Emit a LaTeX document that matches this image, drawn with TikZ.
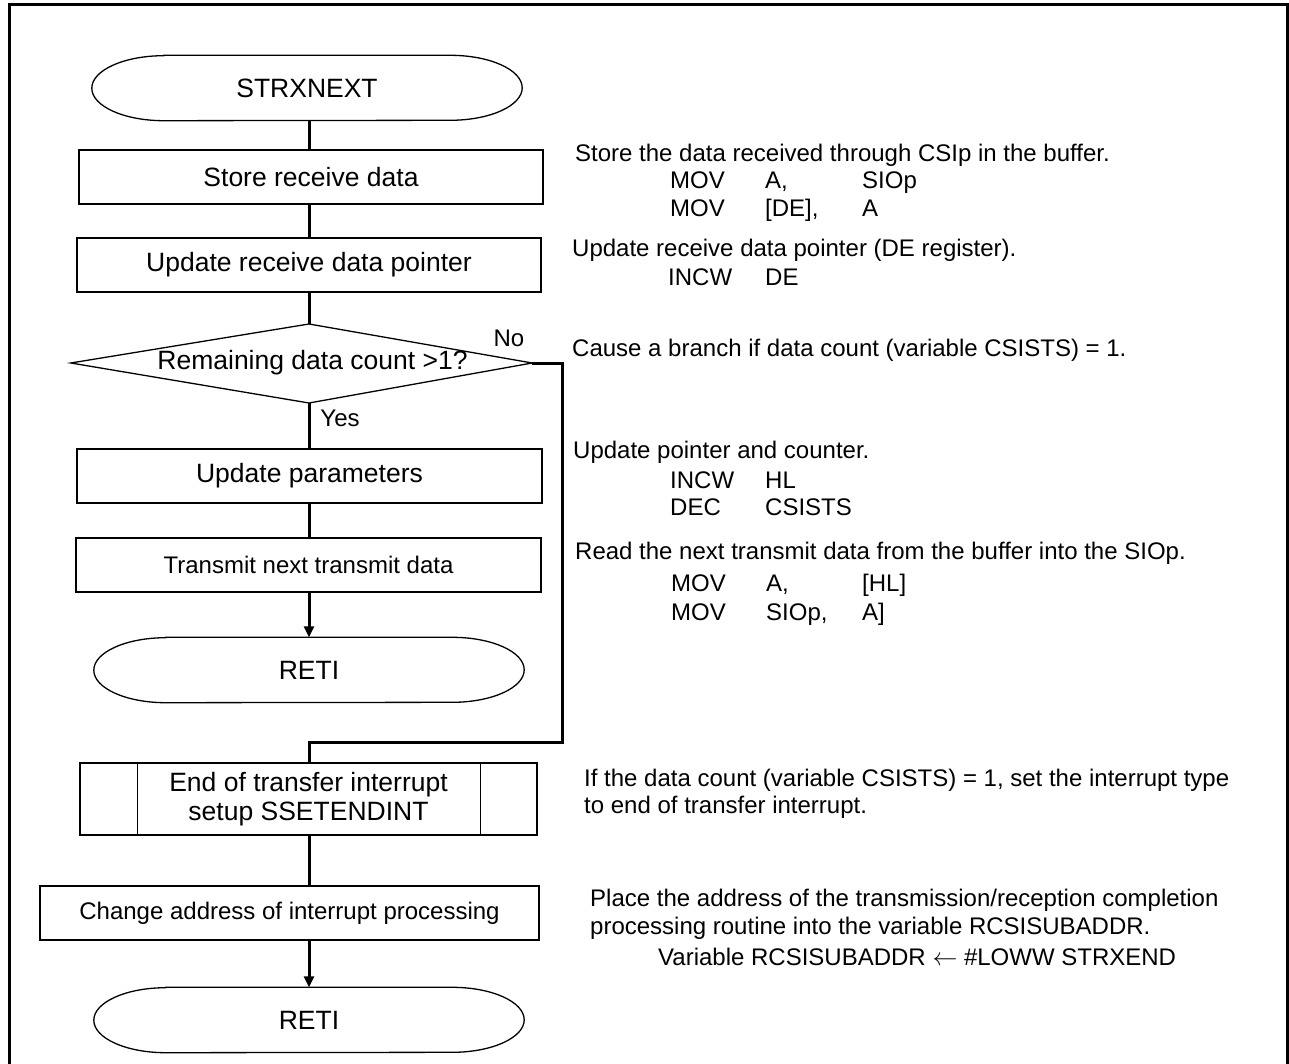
\documentclass[tikz,border=0pt]{standalone}
\usepackage{fontspec}
\setmainfont{Liberation Sans}
\usetikzlibrary{calc,arrows.meta}
\tikzset{
  boxline/.style={line width=1.3pt},
  box/.style={draw, boxline, minimum height=54pt, inner sep=0pt, font=\fontsize{26.5}{30}\selectfont},
  boxs/.style={box, font=\fontsize{24}{28}\selectfont},
  conn/.style={line width=3pt},
  arr/.style={conn, -{Triangle[length=11pt,width=10pt]}},
  note/.style={anchor=west, inner sep=0pt, font=\fontsize{24}{28}\selectfont},
  code/.style={anchor=base west, inner sep=0pt, font=\fontsize{24}{28}\selectfont},
  termnode/.style={minimum width=430pt, minimum height=65pt, inner sep=0pt, font=\fontsize{26.5}{30}\selectfont},
  lbl/.style={inner sep=0pt, font=\fontsize{24}{28}\selectfont},
}
\newcommand\drawterm[1]{%
  \draw[boxline] ($(#1.north west)+(72pt,0)$) -- ($(#1.north east)+(-72pt,0)$)
    arc[start angle=90,end angle=-90,x radius=72pt,y radius=32.5pt]
    -- ($(#1.south west)+(72pt,0)$)
    arc[start angle=270,end angle=90,x radius=72pt,y radius=32.5pt] -- cycle;}
\begin{document}
\begin{tikzpicture}[x=1pt,y=-1pt]
\useasboundingbox (0,0) rectangle (1289,1064);
% frame
\draw[line width=3pt] (9,1080) -- (9,5) -- (1287,5) -- (1287,1080);

% flow nodes
\node[termnode] (t1) at (307,88) {STRXNEXT};
\drawterm{t1}
\node[box, minimum width=464pt] (b1) at (311,177) {Store receive data};
\node[box, minimum width=464pt] (b2) at (309,265) {Update receive data pointer};
\node[inner sep=0pt, minimum width=461pt, minimum height=79pt, font=\fontsize{26.5}{30}\selectfont] (d1) at (301.5,363) {\hspace*{22pt}Remaining data count >1?};
\draw[boxline] (d1.west) -- (309,324) -- (d1.east) -- (309,403) -- cycle;
\node[box, minimum width=465pt] (b3) at (309.5,476) {Update parameters};
\node[boxs, minimum width=465pt] (b4) at (308.5,565) {Transmit next transmit data};
\node[termnode] (t2) at (309,670) {RETI};
\drawterm{t2}
\node[box, minimum width=457pt, minimum height=72pt, align=center,
  font=\fontsize{26.5}{29}\selectfont] (s1) at (308.5,799) {End of transfer interrupt\\setup SSETENDINT};
\draw[boxline] ($(s1.north west)+(58pt,0)$) -- ($(s1.south west)+(58pt,0)$);
\draw[boxline] ($(s1.north east)+(-57pt,0)$) -- ($(s1.south east)+(-57pt,0)$);
\node[boxs, minimum width=499pt] (b5) at (289.5,913) {Change address of interrupt processing};
\node[termnode] (t3) at (309,1020) {RETI};
\drawterm{t3}

% connectors
\coordinate (bend) at (562,742);
\draw[conn] (t1.south -| 309,0) -- (b1.north -| 309,0);
\draw[conn] (b1.south -| 309,0) -- (b2.north -| 309,0);
\draw[conn] (b2.south -| 309,0) -- (309,324);
\draw[conn] (309,403) -- (b3.north -| 309,0);
\draw[conn] (b3.south -| 309,0) -- (b4.north -| 309,0);
\draw[arr] (b4.south -| 309,0) -- (t2.north -| 309,0);
\draw[conn] (d1.east) -| (bend) -| (s1.north -| 309,0);
\draw[conn] (s1.south -| 309,0) -- (b5.north -| 309,0);
\draw[arr] (b5.south -| 309,0) -- (t3.north -| 309,0);

\node[lbl] (no) at (509,338) {No};
\node[lbl] (yes) at (340,418) {Yes};

% notes
\node[note] (c1a) at (575,155) {Store the data received through CSIp in the buffer.};
\node[code] (c1b1) at (670,188.6) {MOV};
\node[code] (c1b2) at (765,188.6) {A,};
\node[code] (c1b3) at (862,188.6) {SIOp};
\node[code] (c1c1) at (670,216.6) {MOV};
\node[code] (c1c2) at (765,216.6) {[DE],};
\node[code] (c1c3) at (862,216.6) {A};
\node[note] (c2a) at (572,250) {Update receive data pointer (DE register).};
\node[code] (c2b1) at (668,285.6) {INCW};
\node[code] (c2b2) at (765,285.6) {DE};
\node[note] (c3) at (572,350) {Cause a branch if data count (variable CSISTS) = 1.};
\node[note] (c4a) at (573,452) {Update pointer and counter.};
\node[code] (c4b1) at (670,488.6) {INCW};
\node[code] (c4b2) at (765,488.6) {HL};
\node[code] (c4c1) at (670,515.6) {DEC};
\node[code] (c4c2) at (765,515.6) {CSISTS};
\node[note] (c5a) at (575,553) {Read the next transmit data from the buffer into the SIOp.};
\node[code] (c5b1) at (671,591.6) {MOV};
\node[code] (c5b2) at (766,591.6) {A,};
\node[code] (c5b3) at (862,591.6) {[HL]};
\node[code] (c5c1) at (671,620.6) {MOV};
\node[code] (c5c2) at (766,620.6) {SIOp,};
\node[code] (c5c3) at (862,620.6) {A]};
\node[note] (c6a) at (584,780) {If the data count (variable CSISTS) = 1, set the interrupt type};
\node[note] (c6b) at (584,807) {to end of transfer interrupt.};
\node[note] (c7a) at (590,900) {Place the address of the transmission/reception completion};
\node[note] (c7b) at (590,928) {processing routine into the variable RCSISUBADDR.};
\node[note] (c7c) at (658,957) {Variable RCSISUBADDR $\leftarrow$ \#LOWW STRXEND};
\end{tikzpicture}
\end{document}
